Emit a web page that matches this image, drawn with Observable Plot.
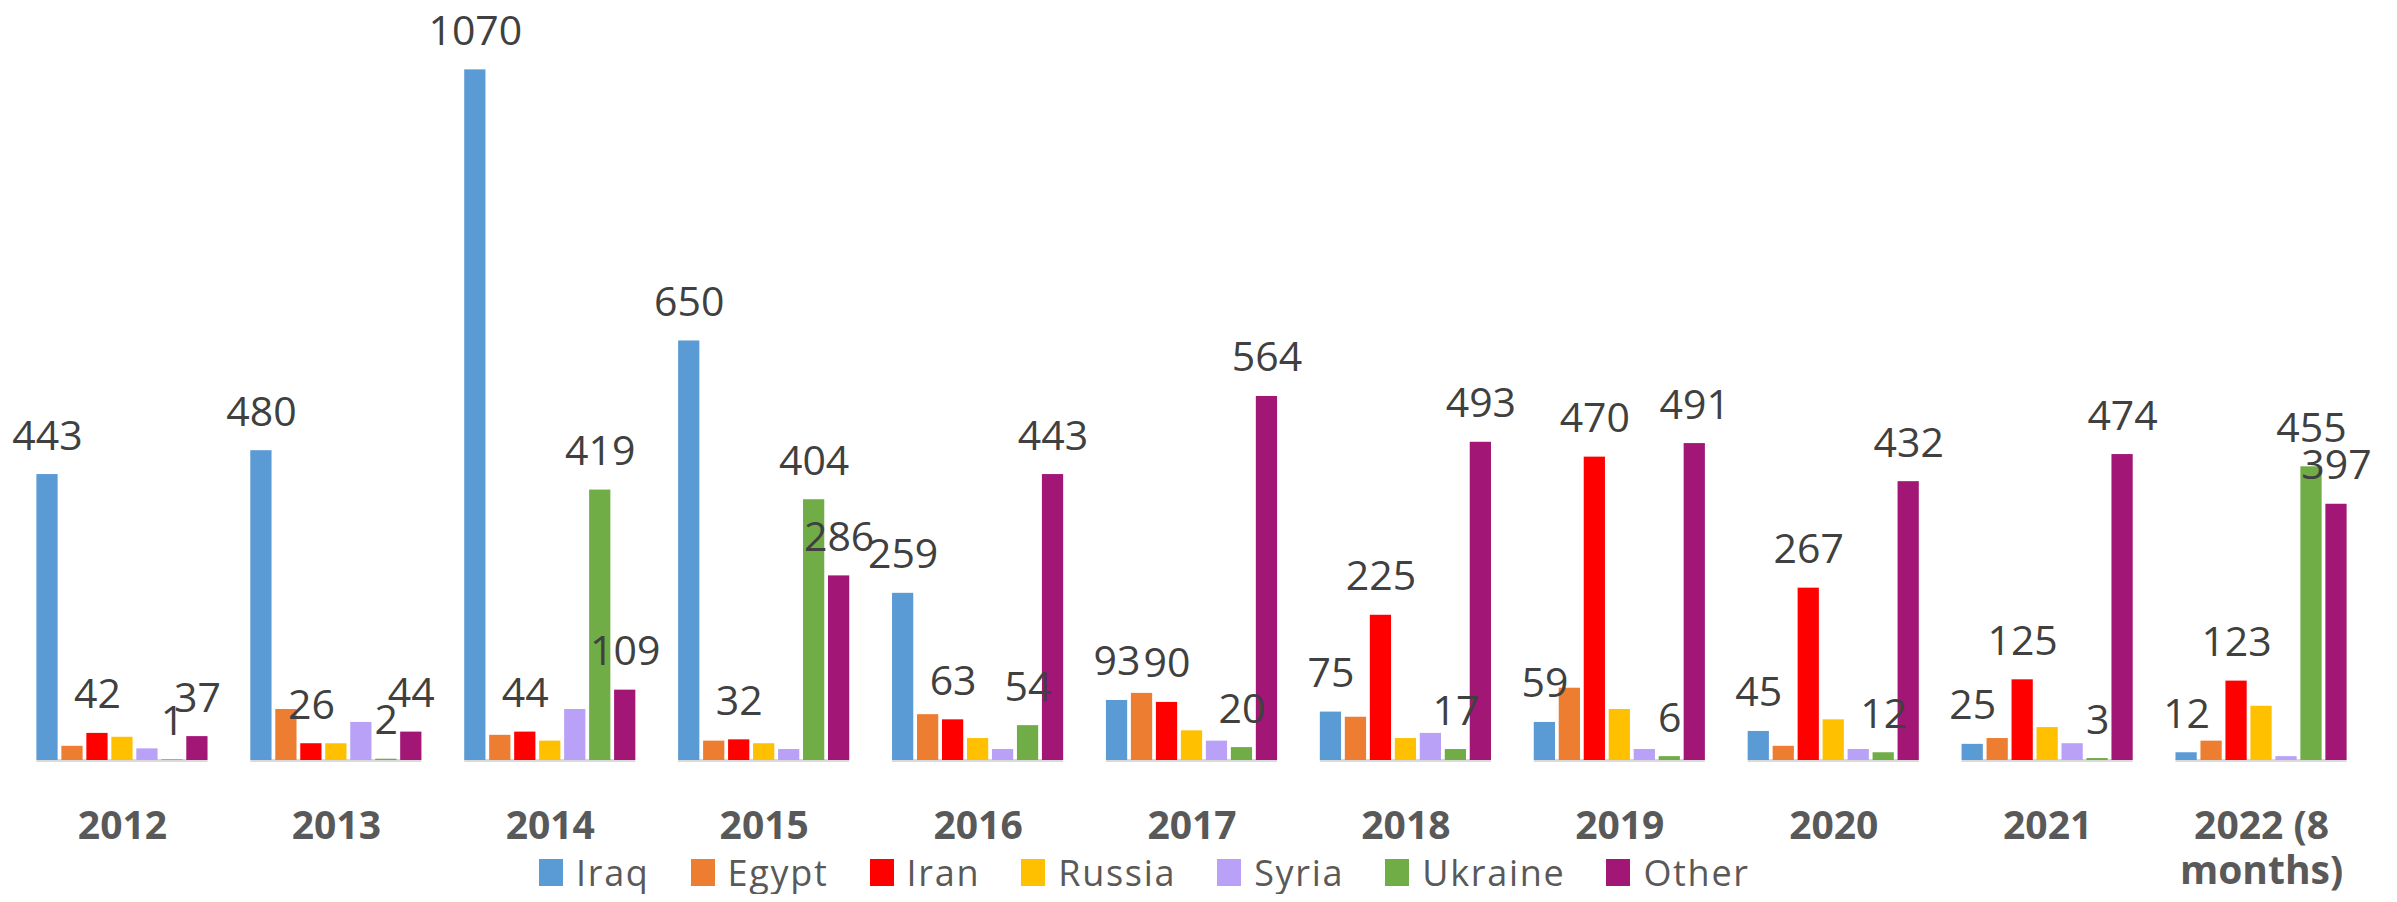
<!DOCTYPE html>
<html>
<head>
<meta charset="utf-8">
<script src="https://cdn.jsdelivr.net/npm/d3@7"></script>
<script src="https://cdn.jsdelivr.net/npm/@observablehq/plot@0.6"></script>
<style>
  html, body { margin: 0; padding: 0; background: #ffffff; }
  #chart svg { overflow: visible; }
  #legend { display: flex; align-items: center; height: 44px; margin-left: 539px; gap: 41px;
            font-family: "Open Sans", sans-serif; font-size: 36px; color: #595959; letter-spacing: 1.7px; }
  .item { display: flex; align-items: center; }
  .sw { width: 24px; height: 27px; margin-right: 13px; display: inline-block; }
</style>
</head>
<body>
<div id="chart"></div>
<div id="legend"></div>
<script>
const years = ["2012", "2013", "2014", "2015", "2016", "2017", "2018", "2019", "2020", "2021", "2022 (8 months)"];
const series = ["Iraq", "Egypt", "Iran", "Russia", "Syria", "Ukraine", "Other"];
const colors = ["#5B9BD5", "#ED7D31", "#FF0000", "#FFC000", "#B8A1F6", "#70AD47", "#A21676"];
const iraq    = [443, 480, 1070, 650, 259, 93, 75, 59, 45, 25, 12];
const egypt   = [22, 79, 39, 30, 71, 104, 67, 112, 22, 34, 30];
const iran    = [42, 26, 44, 32, 63, 90, 225, 470, 267, 125, 123];
const russia  = [36, 26, 30, 26, 34, 46, 34, 79, 63, 51, 84];
const syria   = [18, 59, 79, 17, 17, 30, 42, 17, 17, 26, 6];
const ukraine = [1, 2, 419, 404, 54, 20, 17, 6, 12, 3, 455];
const other   = [37, 44, 109, 286, 443, 564, 493, 491, 432, 474, 397];
const labelledSeries = ["Iraq", "Iran", "Ukraine", "Other"];

const valuesBySeries = [iraq, egypt, iran, russia, syria, ukraine, other];
const data = [];
years.forEach((year, i) => {
  series.forEach((s, j) => {
    data.push({year, series: s, value: valuesBySeries[j][i]});
  });
});
const labelData = data.filter(d => labelledSeries.includes(d.series));

function tickText(y) { return y.replace(" (8 ", " (8\n"); }

function build(useSuper) {
  const marks = [
    Plot.barY(data, {fx: "year", x: "series", y: "value", fill: "series"}),
    Plot.text(labelData, {fx: "year", x: "series", y: "value", text: d => String(d.value),
      lineAnchor: "bottom", dy: -25, fontSize: 41, fill: "#404040"}),
    Plot.axisFx({anchor: "bottom", tickSize: 0, tickPadding: 47, fontSize: 39, fontWeight: "bold",
      fill: "#595959", lineHeight: 1.15, tickFormat: tickText, label: null})
  ];
  if (useSuper) marks.unshift(Plot.ruleY([0], {facet: "super", stroke: "#d9d9d9", strokeWidth: 3}));
  else marks.unshift(Plot.ruleY([0], {stroke: "#d9d9d9", strokeWidth: 3}));
  return Plot.plot({
    width: 2397,
    height: 850,
    marginLeft: 15,
    marginRight: 29,
    marginTop: 50,
    marginBottom: 90,
    style: {fontFamily: "'Open Sans', sans-serif", overflow: "visible", background: "white"},
    fx: {domain: years, paddingInner: 0.2, paddingOuter: 0.1, round: false, label: null, axis: null},
    x: {domain: series, paddingInner: 0.15, paddingOuter: 0, round: false, axis: null},
    y: {domain: [0, 1100], axis: null},
    color: {domain: series, range: colors},
    marks
  });
}

let chart;
try { chart = build(true); } catch (e) { chart = build(false); }
document.getElementById("chart").appendChild(chart);

const legend = document.getElementById("legend");
series.forEach((s, j) => {
  const item = document.createElement("div");
  item.className = "item";
  const sw = document.createElement("span");
  sw.className = "sw";
  sw.style.background = colors[j];
  const t = document.createElement("span");
  t.textContent = s;
  item.appendChild(sw);
  item.appendChild(t);
  legend.appendChild(item);
});
</script>
</body>
</html>
